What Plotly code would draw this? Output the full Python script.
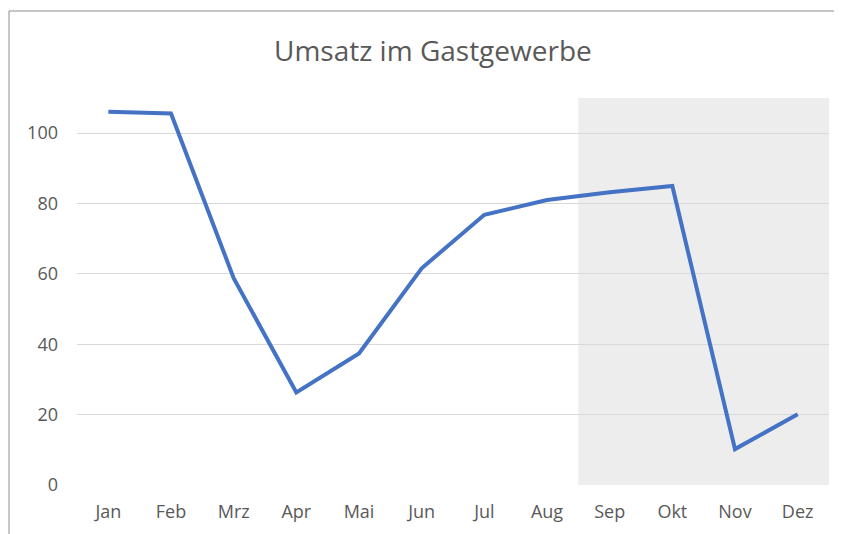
import plotly.graph_objects as go

months = ["Jan", "Feb", "Mrz", "Apr", "Mai", "Jun", "Jul", "Aug", "Sep", "Okt", "Nov", "Dez"]
umsatz = [106.1, 105.6, 58.8, 26.3, 37.4, 61.6, 76.8, 81.0, 83.2, 85.0, 10.2, 20.1]
y_ticks = [0, 20, 40, 60, 80, 100]
shade_start = "Sep"
shade_end = "Dez"

# page body has an 8px margin, so the figure is drawn 8px in from the top-left
OFF = 8
W, H = 842 - OFF, 534 - OFF
L, R, T, B = 77 - OFF, 13, 98 - OFF, 49
pw, ph = W - L - R, H - T - B

def px_x(p):
    return (p - OFF - L) / pw

def px_y(p):
    return (H - B - (p - OFF)) / ph

fig = go.Figure()
fig.add_trace(go.Scatter(
    x=list(range(len(months))), y=umsatz, mode="lines",
    line=dict(color="#4472c4", width=4), hoverinfo="skip", showlegend=False,
))

i0 = months.index(shade_start) - 0.5
i1 = months.index(shade_end) + 0.5
fig.add_shape(type="rect", xref="x", yref="y", x0=i0, x1=i1, y0=0, y1=110,
              fillcolor="#ededed", line=dict(width=0), layer="below")

# outer chart border
fig.add_shape(type="rect", xref="paper", yref="paper",
              x0=px_x(9), x1=px_x(870), y0=px_y(570), y1=px_y(11),
              line=dict(color="#8c8c8c", width=1), fillcolor="rgba(0,0,0,0)")

fig.add_annotation(text="Umsatz im Gastgewerbe", xref="paper", yref="paper",
                   x=px_x(433), y=px_y(50), showarrow=False,
                   xanchor="center", yanchor="middle",
                   font=dict(family="Open Sans", size=28, color="#595959"))

fig.update_layout(
    width=W, height=H, margin=dict(l=L, r=R, t=T, b=B, pad=0),
    paper_bgcolor="white", plot_bgcolor="rgba(0,0,0,0)",
    font=dict(family="Open Sans", size=18, color="#595959"),
    xaxis=dict(range=[-0.5, len(months) - 0.5], tickmode="array",
               tickvals=list(range(len(months))), ticktext=months,
               showgrid=False, zeroline=False, showline=False, ticks="",
               ticklen=0, tickfont=dict(size=18, color="#595959")),
    yaxis=dict(range=[0, 110], tickmode="array", tickvals=y_ticks,
               ticktext=[str(v) for v in y_ticks], showgrid=True,
               gridcolor="#d9d9d9", gridwidth=1, zeroline=False,
               showline=False, ticks="", tickfont=dict(size=18, color="#595959"),
               layer="above traces"),
)
fig.update_xaxes(automargin=False, ticklabelstandoff=14)
fig.update_yaxes(automargin=False, ticklabelstandoff=18)

fig.write_html("out.html")
